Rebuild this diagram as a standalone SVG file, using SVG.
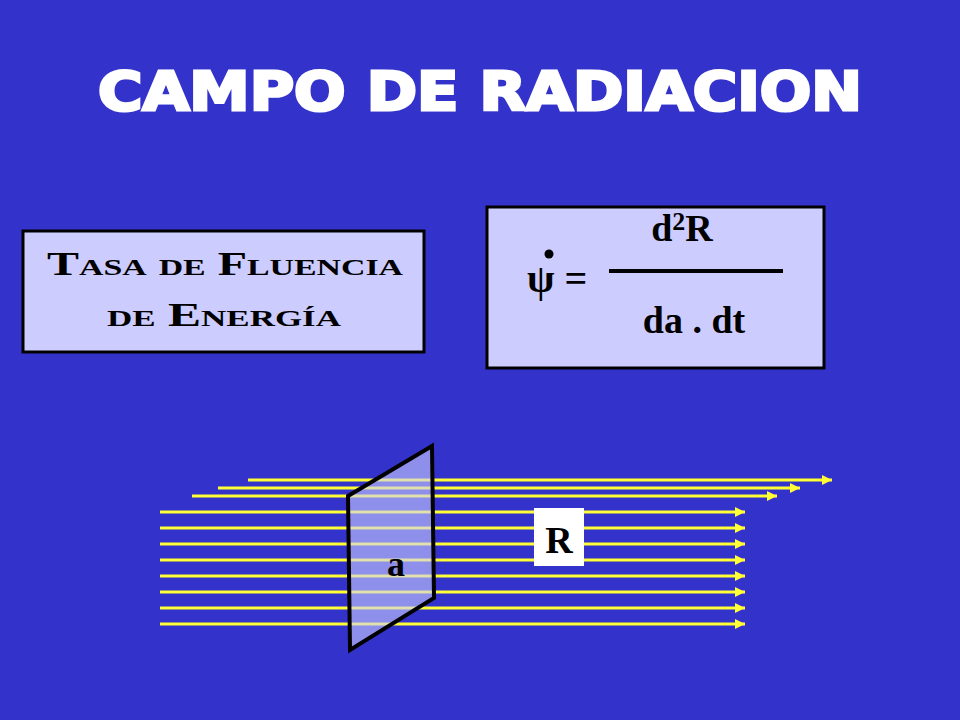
<svg xmlns="http://www.w3.org/2000/svg" width="960" height="720" viewBox="0 0 960 720">
<defs>
<marker id="ah" viewBox="0 0 10 10" refX="10" refY="5" markerWidth="12" markerHeight="10" markerUnits="userSpaceOnUse" orient="auto"><path d="M0,0 L10,5 L0,10 z" fill="#ffff33"/></marker>
<style>
.ray{stroke:#ffff33;stroke-width:3;marker-end:url(#ah)}
.box{fill:#ccccff;stroke:#000;stroke-width:3}
.f{font-family:"Liberation Serif",serif;font-weight:bold;fill:#000}
</style>
</defs>
<rect width="960" height="720" fill="#3333cc"/>
<text x="98" y="110" textLength="764" lengthAdjust="spacingAndGlyphs" font-family="DejaVu Sans" font-weight="bold" font-size="54" fill="#fff" stroke="#fff" stroke-width="3">CAMPO DE RADIACION</text>
<g id="tasa">
<rect class="box" x="23" y="231" width="401" height="121"/>
<text class="f" x="47" y="275" textLength="356" lengthAdjust="spacingAndGlyphs" font-size="34" font-variant="small-caps">Tasa de Fluencia</text>
<text class="f" x="107" y="326" textLength="234" lengthAdjust="spacingAndGlyphs" font-size="34" font-variant="small-caps">de Energía</text>
</g>
<g id="formula">
<rect class="box" x="487" y="207" width="337" height="161"/>
<text class="f" x="682" y="241" text-anchor="middle" font-size="38">d<tspan font-size="26" dy="-11">2</tspan><tspan dy="11">R</tspan></text>
<text class="f" x="527" y="292" font-size="40">ψ =</text>
<circle cx="549" cy="254" r="4.5" fill="#000"/>
<line x1="609" y1="271" x2="783" y2="271" stroke="#000" stroke-width="4"/>
<text class="f" x="694" y="333" text-anchor="middle" font-size="38">da . dt</text>
</g>
<g id="rays-back">
<line class="ray" x1="248" y1="480" x2="832" y2="480"/>
<line class="ray" x1="218" y1="488" x2="800" y2="488"/>
<line class="ray" x1="192" y1="496" x2="777" y2="496"/>
</g>
<g id="connectors">
<line class="ray" x1="160" y1="512" x2="745" y2="512"/>
<line class="ray" x1="160" y1="528" x2="745" y2="528"/>
<line class="ray" x1="160" y1="544" x2="745" y2="544"/>
<line class="ray" x1="160" y1="560" x2="745" y2="560"/>
<line class="ray" x1="160" y1="576" x2="745" y2="576"/>
<line class="ray" x1="160" y1="592" x2="745" y2="592"/>
<line class="ray" x1="160" y1="608" x2="745" y2="608"/>
<line class="ray" x1="160" y1="624" x2="745" y2="624"/>
</g>
<g id="plane">
<polygon points="348,496 432,446 434,598 350,650" fill="#ccccff" fill-opacity="0.6" stroke="#000" stroke-width="4"/>
<text class="f" x="396" y="576" text-anchor="middle" font-size="36">a</text>
</g>
<g id="R">
<rect x="534" y="508" width="50" height="58" fill="#fff"/>
<text class="f" x="559" y="553" text-anchor="middle" font-size="38">R</text>
</g>
</svg>
